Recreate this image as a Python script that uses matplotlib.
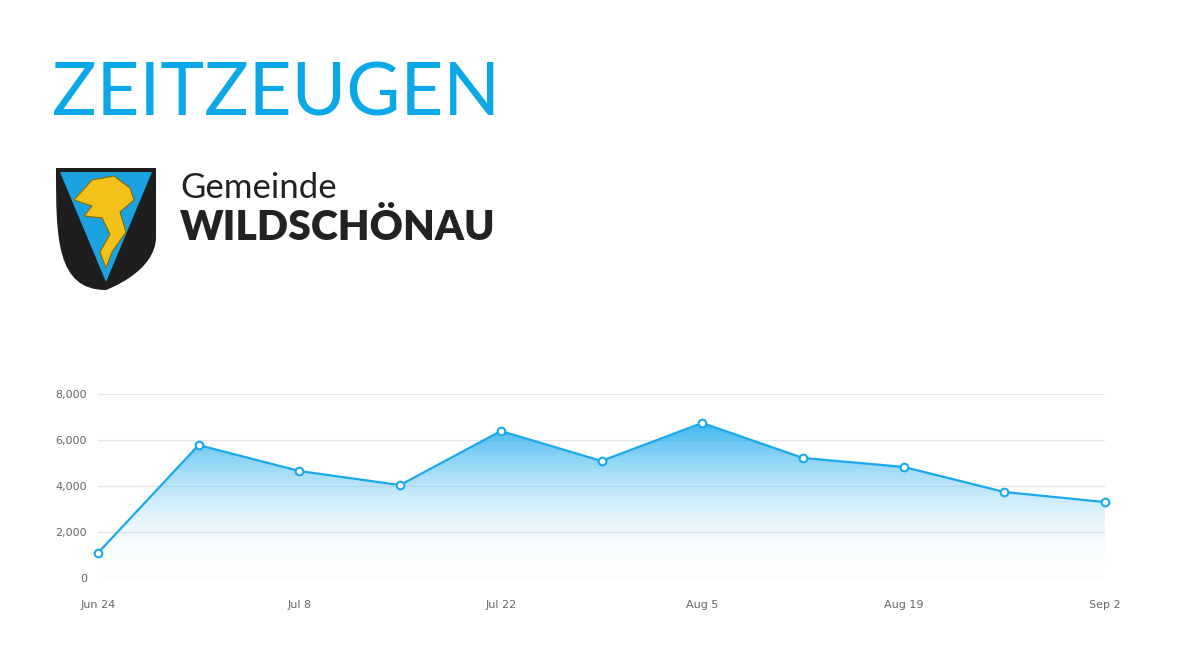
import matplotlib
matplotlib.use('Agg')
import matplotlib.pyplot as plt
import numpy as np
from matplotlib.patches import Polygon, PathPatch
from matplotlib.path import Path
from matplotlib.colors import LinearSegmentedColormap

dates = ['Jun 24', 'Jul 1', 'Jul 8', 'Jul 15', 'Jul 22', 'Jul 29', 'Aug 5',
         'Aug 12', 'Aug 19', 'Aug 26', 'Sep 2']
values = [1090, 5780, 4650, 4040, 6390, 5090, 6740, 5220, 4830, 3740, 3300]
tick_labels = ['Jun 24', 'Jul 8', 'Jul 22', 'Aug 5', 'Aug 19', 'Sep 2']
y_ticks = [0, 2000, 4000, 6000, 8000]

BLUE = '#1aa9ec'
W, H = 1180, 664
fig = plt.figure(figsize=(W / 100, H / 100), dpi=100)
fig.patch.set_facecolor('white')

# title
fig.text(52 / W, 1 - 115 / H, 'ZEITZEUGEN', fontsize=53.5, family='Lato',
         color='#0aa8e8', ha='left', va='baseline')

# coat of arms (rough)
lax = fig.add_axes([52 / W, 1 - 292 / H, 108 / W, 126 / H])
lax.set_xlim(0, 108); lax.set_ylim(0, 126); lax.axis('off')
shield = Path([(4, 124), (104, 124), (104, 55), (104, 20), (54, 2), (54, 2),
               (4, 2), (4, 55), (4, 124)],
              [Path.MOVETO, Path.LINETO, Path.LINETO, Path.CURVE4, Path.CURVE4, Path.CURVE4,
               Path.CURVE4, Path.CURVE4, Path.LINETO])
lax.add_patch(PathPatch(shield, fc='#1e1e1e', ec='none'))
lax.add_patch(Polygon([(8, 120), (100, 120), (54, 10)], fc='#1aa3e0', ec='none'))
lax.add_patch(Polygon([(22, 92), (40, 112), (62, 116), (78, 104), (82, 92), (68, 80),
                       (74, 60), (60, 40), (54, 24), (48, 40), (58, 58), (50, 74),
                       (32, 76), (40, 86)], fc='#f2c21b', ec='#8a6a00', lw=0.8))

fig.text(180 / W, 1 - 198 / H, 'Gemeinde', fontsize=25, family='Lato',
         color='#222222', ha='left', va='baseline')
fig.text(180 / W, 1 - 240 / H, 'WILDSCHÖNAU', fontsize=29.5, family='Lato',
         fontweight='heavy', color='#222222', ha='left', va='baseline')

# chart
ax = fig.add_axes([98 / W, 86 / H, (1105 - 98) / W, (578 - 394) / H])
x = np.arange(len(values))
ax.set_xlim(0, len(values) - 1)
ax.set_ylim(0, 8000)

grad = np.linspace(0, 1, 256).reshape(-1, 1)
cmap = LinearSegmentedColormap.from_list('g', [(1, 1, 1, 0), (0.1, 0.66, 0.93, 0.85)])
im = ax.imshow(grad, extent=[0, len(values) - 1, 0, max(values)], origin='lower',
               aspect='auto', cmap=cmap, zorder=1)
poly = Polygon(list(zip(x, values)) + [(x[-1], 0), (0, 0)], closed=True,
               fc='none', ec='none', transform=ax.transData)
ax.add_patch(poly)
im.set_clip_path(poly)

ax.plot(x, values, color=BLUE, lw=1.6, marker='o', ms=5.5, mfc='white',
        mec=BLUE, mew=1.5, zorder=3, clip_on=False)

ax.set_yticks(y_ticks)
ax.set_yticklabels([f'{v:,}' for v in y_ticks])
ax.set_xticks(x[::2])
ax.set_xticklabels(tick_labels)
ax.grid(True, axis='y', color='#e6e6e6', lw=1)
ax.tick_params(length=0, labelsize=8, labelcolor='#666666')
ax.tick_params(axis='x', pad=16)
ax.tick_params(axis='y', pad=8)
for s in ax.spines.values():
    s.set_visible(False)
ax.set_axisbelow(True)

fig.savefig('out.png', dpi=100, facecolor='white')
